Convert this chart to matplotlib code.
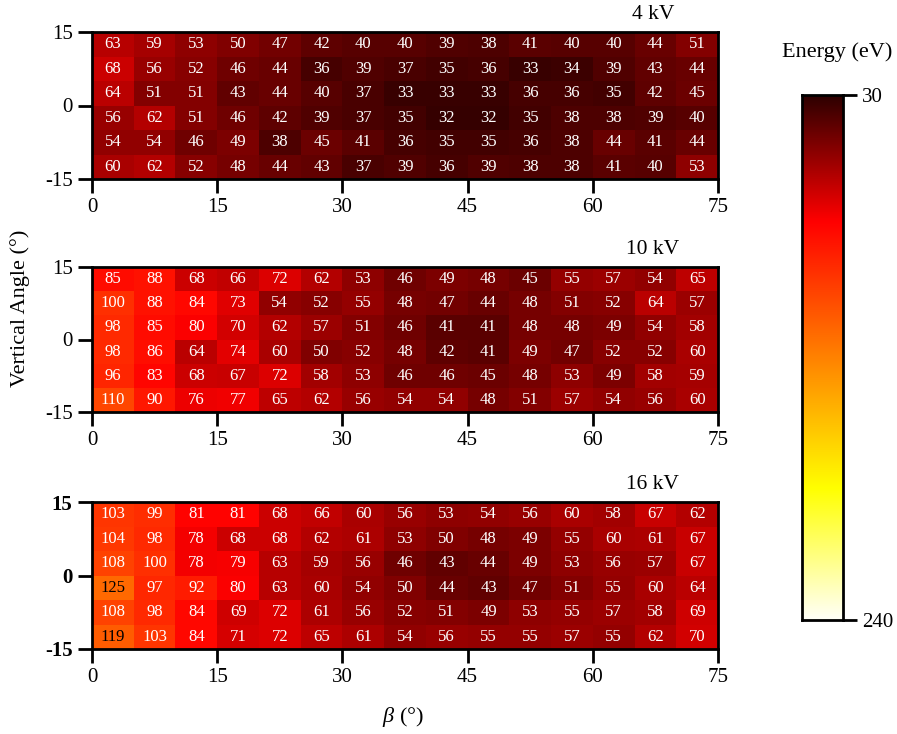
import numpy as np
import matplotlib
matplotlib.use("Agg")
import matplotlib.pyplot as plt
from matplotlib.colors import LinearSegmentedColormap, Normalize

plt.rcParams['font.family'] = ['Liberation Serif', 'DejaVu Serif']
plt.rcParams['mathtext.fontset'] = 'custom'
plt.rcParams['mathtext.it'] = 'Liberation Serif:italic'
plt.rcParams['mathtext.rm'] = 'Liberation Serif'
plt.rcParams['axes.unicode_minus'] = False

panel_titles = ["4 kV", "10 kV", "16 kV"]
beta_edges = list(range(0, 80, 5))
angle_edges = [15, 10, 5, 0, -5, -10, -15]
x_ticks = [0, 15, 30, 45, 60, 75]
y_ticks = [-15, 0, 15]
vmin, vmax = 30, 240

energy_4kV = [
    [63, 59, 53, 50, 47, 42, 40, 40, 39, 38, 41, 40, 40, 44, 51],
    [68, 56, 52, 46, 44, 36, 39, 37, 35, 36, 33, 34, 39, 43, 44],
    [64, 51, 51, 43, 44, 40, 37, 33, 33, 33, 36, 36, 35, 42, 45],
    [56, 62, 51, 46, 42, 39, 37, 35, 32, 32, 35, 38, 38, 39, 40],
    [54, 54, 46, 49, 38, 45, 41, 36, 35, 35, 36, 38, 44, 41, 44],
    [60, 62, 52, 48, 44, 43, 37, 39, 36, 39, 38, 38, 41, 40, 53],
]
energy_10kV = [
    [85, 88, 68, 66, 72, 62, 53, 46, 49, 48, 45, 55, 57, 54, 65],
    [100, 88, 84, 73, 54, 52, 55, 48, 47, 44, 48, 51, 52, 64, 57],
    [98, 85, 80, 70, 62, 57, 51, 46, 41, 41, 48, 48, 49, 54, 58],
    [98, 86, 64, 74, 60, 50, 52, 48, 42, 41, 49, 47, 52, 52, 60],
    [96, 83, 68, 67, 72, 58, 53, 46, 46, 45, 48, 53, 49, 58, 59],
    [110, 90, 76, 77, 65, 62, 56, 54, 54, 48, 51, 57, 54, 56, 60],
]
energy_16kV = [
    [103, 99, 81, 81, 68, 66, 60, 56, 53, 54, 56, 60, 58, 67, 62],
    [104, 98, 78, 68, 68, 62, 61, 53, 50, 48, 49, 55, 60, 61, 67],
    [108, 100, 78, 79, 63, 59, 56, 46, 43, 44, 49, 53, 56, 57, 67],
    [125, 97, 92, 80, 63, 60, 54, 50, 44, 43, 47, 51, 55, 60, 64],
    [108, 98, 84, 69, 72, 61, 56, 52, 51, 49, 53, 55, 57, 58, 69],
    [119, 103, 84, 71, 72, 65, 61, 54, 56, 55, 55, 57, 55, 62, 70],
]
panels = [energy_4kV, energy_10kV, energy_16kV]

cmap = LinearSegmentedColormap.from_list(
    "energy",
    [(0.0, (0.18, 0.0, 0.0)), (0.24, (1.0, 0.0, 0.0)),
     (0.75, (1.0, 1.0, 0.0)), (1.0, (1.0, 1.0, 0.97))])
norm = Normalize(vmin=vmin, vmax=vmax)

fig = plt.figure(figsize=(8.97, 7.34), dpi=100)
W, H = 897, 734

def rect(x0, y0, x1, y1):
    return [x0 / W, 1 - y1 / H, (x1 - x0) / W, (y1 - y0) / H]

axes_px = [(92, 32, 718, 179), (92, 267, 718, 412), (92, 502, 718, 649)]

for i, (data, title, box) in enumerate(zip(panels, panel_titles, axes_px)):
    ax = fig.add_axes(rect(*box))
    arr = np.array(data, dtype=float)
    ax.pcolormesh(beta_edges, angle_edges, arr, cmap=cmap, norm=norm)
    ax.set_xlim(0, 75)
    ax.set_ylim(-15, 15)
    for r in range(arr.shape[0]):
        for c in range(arr.shape[1]):
            v = arr[r, c]
            xc = (beta_edges[c] + beta_edges[c + 1]) / 2
            yc = (angle_edges[r] + angle_edges[r + 1]) / 2
            ax.text(xc, yc, f"{int(v)}", ha='center', va='center',
                    fontsize=12, color='black' if v > 115 else 'white')
    ax.set_xticks(x_ticks)
    ax.set_yticks(y_ticks)
    ax.tick_params(direction='out', length=10, width=2, labelsize=15, pad=4)
    for s in ax.spines.values():
        s.set_linewidth(2)
    if i == 2:
        for lab in ax.get_yticklabels():
            lab.set_fontweight('bold')
    ax.text(0.896, 1.055, title, transform=ax.transAxes, ha='center',
            va='bottom', fontsize=15.5)

fig.text(403 / W, 1 - 717 / H, r"$\it{\beta}$ (°)", ha='center', va='center', fontsize=16)
fig.text(20 / W, 1 - 308 / H, "Vertical Angle (°)", ha='center', va='center',
         rotation=90, fontsize=16)

cax = fig.add_axes(rect(802, 95, 843, 620))
grad = np.linspace(vmin, vmax, 256).reshape(-1, 1)
cax.imshow(grad, aspect='auto', cmap=cmap, norm=norm,
           extent=[0, 1, vmax, vmin])
cax.set_ylim(vmax, vmin)
cax.set_xticks([])
cax.yaxis.tick_right()
cax.set_yticks([vmin, vmax])
cax.tick_params(direction='out', length=10, width=2, labelsize=15)
for s in cax.spines.values():
    s.set_linewidth(2)
fig.text(837 / W, 1 - 52 / H, "Energy (eV)", ha='center', va='center', fontsize=16)

fig.savefig("out.png", dpi=100)
